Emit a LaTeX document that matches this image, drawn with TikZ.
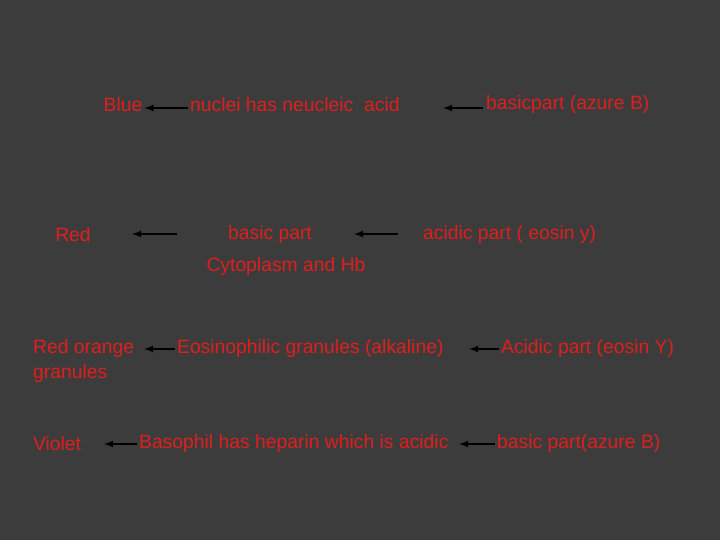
\documentclass[tikz,border=0pt]{standalone}
\usepackage{fontspec}
\setmainfont{Liberation Sans}
\usetikzlibrary{arrows,positioning}
\definecolor{slidebg}{HTML}{3C3C3C}
\definecolor{slidered}{HTML}{E01E1E}
\tikzset{txt/.style = {text=slidered, font=\fontsize{11}{14}\selectfont, inner sep=1pt}}
\tikzset{arrow/.style = {draw, black, thick, -latex}}

\begin{document}
\begin{tikzpicture}[x=0.02cm, y=-0.02cm]

        \fill [slidebg] (0,0) rectangle (720,540);

        % row 1
        \node [txt] (blue) at (123,105) {Blue};
        \node [txt, anchor=west] (nuclei) at (188,105) {nuclei has neucleic\ \ acid};
        \node [txt, anchor=west] (azure1) at (484,105) {basicpart (azure B)};

        % row 2
        \node [txt] (red) at (73,235) {Red};
        \node [txt] (basic) at (270,235) {basic part};
        \node [txt, anchor=west] (eosin1) at (421,235) {acidic part ( eosin y)};
        \node [txt] (cyto) at (286,267) {Cytoplasm and Hb};

        % row 3
        \node [txt, anchor=west, align=left] (orange) at (31,361) {Red orange\\granules};
        \node [txt, anchor=west] (eosino) at (175,349) {Eosinophilic granules (alkaline)};
        \node [txt, anchor=west] (eosin2) at (499,349) {Acidic part (eosin Y)};

        % row 4
        \node [txt] (violet) at (57,444) {Violet};
        \node [txt, anchor=west] (baso) at (137,444) {Basophil has heparin which is acidic};
        \node [txt, anchor=west] (azure2) at (495,444) {basic part(azure B)};

        % free arrow ends
        \coordinate (a2tail) at (483,108);
        \coordinate (a2head) at (443,108);
        \coordinate (a3tail) at (177,234);
        \coordinate (a3head) at (132,234);
        \coordinate (a4tail) at (398,234);
        \coordinate (a4head) at (354,234);
        \coordinate (a5head) at (144,349);
        \coordinate (a6head) at (469,349);
        \coordinate (a7head) at (104,444);
        \coordinate (a8head) at (459,444);

        \draw [arrow] (nuclei.west |- 0,108) -- (blue.east |- 0,108);
        \draw [arrow] (a2tail) -- (a2head);
        \draw [arrow] (a3tail) -- (a3head);
        \draw [arrow] (a4tail) -- (a4head);
        \draw [arrow] (eosino.west) -- (a5head);
        \draw [arrow] (eosin2.west) -- (a6head);
        \draw [arrow] (baso.west) -- (a7head);
        \draw [arrow] (azure2.west) -- (a8head);

\end{tikzpicture}
\end{document}
